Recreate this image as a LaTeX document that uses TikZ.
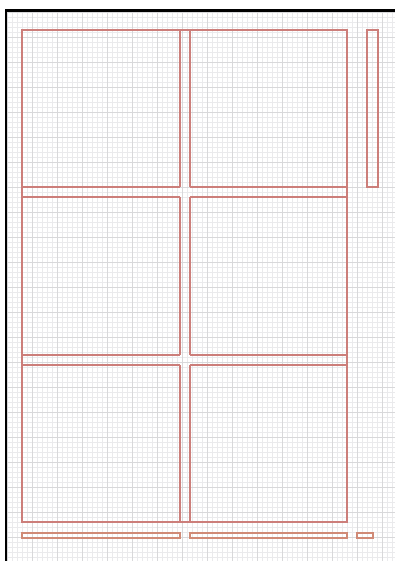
\documentclass[tikz,border=0pt]{standalone}
\definecolor{panelred}{RGB}{204,126,122}
\definecolor{stripred}{RGB}{208,138,118}
\definecolor{gridminor}{RGB}{234,234,236}
\definecolor{gridmajor}{RGB}{216,216,218}
\begin{document}
\begin{tikzpicture}[x=1pt,y=-1pt,
  frame/.style={draw=panelred,line width=1.2pt},
  strip/.style={draw=stripred,line width=1.2pt},
  minorgrid/.style={draw=gridminor,line width=0.5pt},
  majorgrid/.style={draw=gridmajor,line width=0.5pt}]
\useasboundingbox (0,0) rectangle (395,561);
\fill[white] (0,0) rectangle (395,561);
% grid
\foreach \i in {0,...,78}{
  \pgfmathsetmacro{\xx}{7.5+5*\i}
  \draw[minorgrid] (\xx,12) -- (\xx,561);
}
\foreach \j in {0,...,110}{
  \pgfmathsetmacro{\yy}{12.5+5*\j}
  \draw[minorgrid] (7,\yy) -- (395,\yy);
}
\foreach \i in {0,...,15}{
  \pgfmathsetmacro{\xx}{7.5+25*\i}
  \draw[majorgrid] (\xx,12) -- (\xx,561);
}
\foreach \j in {0,...,22}{
  \pgfmathsetmacro{\yy}{12.5+25*\j}
  \draw[majorgrid] (7,\yy) -- (395,\yy);
}
% page border (left and top)
\draw[black,line width=2.4pt] (6,561) -- (6,10.5) -- (395,10.5);
% panels
\coordinate (TL) at (22,30);
\coordinate (BR) at (347,522);
\draw[frame] (TL) rectangle (BR);
\foreach \x in {180,190}{
  \draw[frame] (\x,30) -- (\x,187);
  \draw[frame] (\x,197) -- (\x,355);
  \draw[frame] (\x,365) -- (\x,522);
}
\foreach \y in {187,197,355,365}{
  \draw[frame] (22,\y) -- (180,\y);
  \draw[frame] (190,\y) -- (347,\y);
}
% side strip
\draw[frame] (367,30) rectangle (378,187);
% bottom strips
\draw[strip] (22,533) rectangle (180,538);
\draw[strip] (190,533) rectangle (347,538);
\draw[strip] (357,533) rectangle (373,538);
\end{tikzpicture}
\end{document}
